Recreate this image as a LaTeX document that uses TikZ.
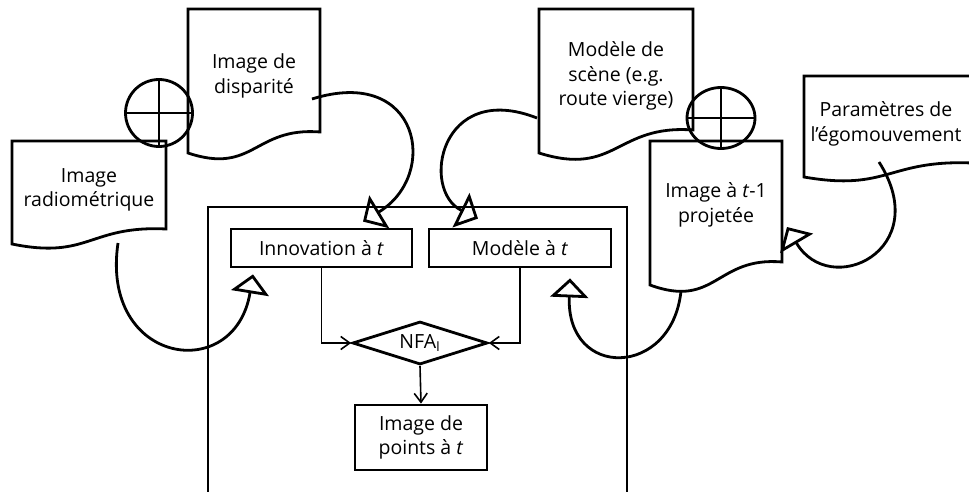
\documentclass[tikz,border=0pt]{standalone}
\usepackage{fontspec}
\setmainfont{Open Sans}
\usepackage{tikz}
\usetikzlibrary{arrows.meta,shapes.geometric}
\tikzset{
  every node/.style={font=\fontsize{19.5}{24.5}\selectfont},
  docline/.style={line width=2.8pt, line join=miter},
  doctext/.style={align=center, inner sep=0pt},
  procbox/.style={draw, line width=2.8pt, inner sep=2pt, align=center},
  decision/.style={diamond, draw, line width=2.8pt, inner sep=0pt, aspect=3},
  sumnode/.style={ellipse, draw, line width=2.8pt, inner sep=0pt,
    path picture={\draw[line width=2.8pt]
      (path picture bounding box.north) -- (path picture bounding box.south)
      (path picture bounding box.west) -- (path picture bounding box.east);}},
  fusionframe/.style={line width=2.8pt},
  flow/.style={line width=1.6pt, -{Straight Barb[length=9pt, width=13pt]}},
  feed/.style={line width=2.8pt, -{Triangle[open, length=19pt, width=38pt]}}
}
% left, top, right, bottom left, bottom right
\newcommand{\docshape}[5]{\draw[docline] (#1,#2) -- (#3,#2) -- (#3,#5)
  .. controls ({(#1+#3)/2},{#5-0.25*(#4-#5)}) and ({(#1+#3)/2},{#4+1.05*(#4-#5)}) .. (#1,#4) -- cycle;}

\begin{document}
\begin{tikzpicture}[x=1pt, y=-1pt]
\useasboundingbox (0,0) rectangle (969,492);

% documents
\docshape{188}{9}{320}{153}{132}
\docshape{12}{141}{166}{244}{229}
\docshape{539}{9}{693}{153}{130}
\docshape{650}{141}{782}{285}{262}
\docshape{804}{76}{972}{177}{163}
\node[doctext] (disp) at (254,76) {Image de\\disparité};
\node[doctext] (radio) at (89,190) {Image\\radiométrique};
\node[doctext] (scene) at (616,76) {Modèle de\\scène (e.g.\\route vierge)};
\node[doctext] (proj) at (716,205) {Image à \textit{t}-1\\projetée};
\node[doctext] (ego) at (886,124) {Paramètres de\\l’égomouvement};

% sums
\node[sumnode, minimum width=67pt, minimum height=67pt] (sum1) at (159,113) {};
\node[sumnode, minimum width=68pt, minimum height=61pt] (sum2) at (721,118) {};

% fusion block
\draw[fusionframe] (208,500) |- (627,207) -- (627,500);
\node[procbox, minimum width=181pt, minimum height=38pt] (innov) at (321.5,248) {Innovation à \textit{t}};
\node[procbox, minimum width=182pt, minimum height=38pt] (modele) at (520,248) {Modèle à \textit{t}};
\node[decision, minimum width=135pt, minimum height=43pt] (nfa) at (420,343) {NFA\textsubscript{I}};
\node[procbox, minimum width=132pt, minimum height=65pt] (pts) at (421,437.5) {Image de\\points à \textit{t}};

\draw[flow] (innov.south) |- (nfa.west);
\draw[flow] (modele.south) |- (nfa.east);
\draw[flow] (nfa.south) -- (pts.north);

% feeds
\coordinate (dispout) at (312,99);
\coordinate (sceneout) at (537,118);
\coordinate (radioout) at (118,243);
\coordinate (projout) at (681,291);
\coordinate (egoout) at (879,162);
\coordinate (projin) at (787,227);
\draw[feed] (dispout) .. controls (420,65) and (440,175) .. ([shift={(41.5,-6)}]innov.north);
\draw[feed] (sceneout) .. controls (440,80) and (420,190) .. ([shift={(-42,-9)}]modele.north);
\draw[feed] (radioout) .. controls (100,365) and (235,385) .. ([shift={(-68.5,6)}]innov.south);
\draw[feed] (projout) .. controls (672,378) and (566,380) .. ([shift={(50,10)}]modele.south);
\draw[feed] (egoout) .. controls (935,250) and (830,300) .. (projin);
\end{tikzpicture}
\end{document}
